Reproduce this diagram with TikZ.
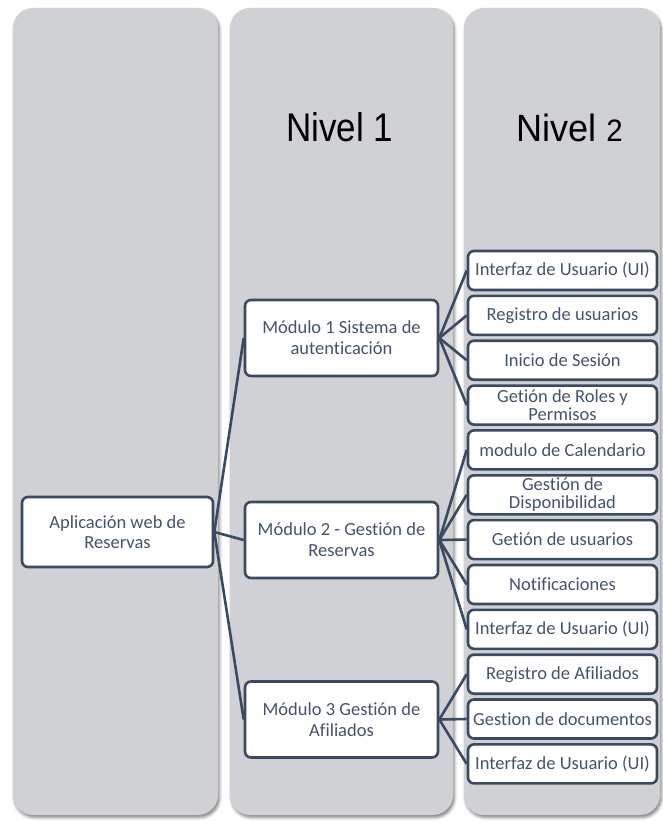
\documentclass[tikz,border=0pt]{standalone}
\usepackage{fontspec}
\setmainfont{Carlito}[Ligatures=NoCommon]
\newfontfamily\headfont{Liberation Sans}
\usetikzlibrary{shadows.blur}
\definecolor{lanefill}{RGB}{208,209,213}
\definecolor{ink}{RGB}{68,84,106}
\definecolor{edgecol}{RGB}{58,74,96}
\begin{document}
\begin{tikzpicture}[x=1pt,y=-1pt,
  lane/.style={fill=lanefill, rounded corners=20pt,
    blur shadow={shadow xshift=1.5pt, shadow yshift=-2.5pt,
      shadow blur radius=3pt, shadow opacity=50}},
  box/.style={draw=edgecol, line width=2.6pt, fill=white, rounded corners=6pt,
    text=ink, align=center, inner sep=0pt},
  rootbox/.style={box, minimum width=191pt, minimum height=70pt,
    font=\fontsize{18.5}{20}\selectfont},
  modbox/.style={box, minimum width=193pt, minimum height=76pt,
    font=\fontsize{18.5}{21}\selectfont},
  leaf/.style={box, minimum width=189pt, minimum height=39pt,
    font=\fontsize{18.5}{18}\selectfont},
  link/.style={draw=edgecol, line width=2.6pt},
  title/.style={anchor=base, inner sep=0pt, text=black}
]
\useasboundingbox (0,0) rectangle (663,821);

% background lanes
\path[lane] (13,8) rectangle (218,815);
\path[lane] (230,8) rectangle (453,815);
\path[lane] (464,8) rectangle (660,815);

% lane titles
\node[title] (t1) at (339.5,142) {\scalebox{0.875}[1]{\headfont\fontsize{40}{40}\selectfont Nivel 1}};
\node[title] (t2) at (569.5,142) {\scalebox{0.95}[1]{\headfont\fontsize{38}{38}\selectfont Nivel {\fontsize{31}{31}\selectfont 2}}};

% root and modules
\node[rootbox] (root) at (117.5,532) {Aplicación web de\\Reservas};
\node[modbox] (m1) at (341.5,338) {Módulo 1 Sistema de\\autenticación};
\node[modbox] (m2) at (341.5,540) {Módulo 2 - Gestión de\\Reservas};
\node[modbox] (m3) at (341.5,719.5) {Módulo 3 Gestión de\\Afiliados};

% second-level items
\node[leaf] (a1) at (562.5,270.5) {Interfaz de Usuario (UI)};
\node[leaf] (a2) at (562.5,315.4) {Registro de usuarios};
\node[leaf] (a3) at (562.5,360.2) {Inicio de Sesión};
\node[leaf] (a4) at (562.5,405.1) {Getión de Roles y\\Permisos};
\node[leaf] (b1) at (562.5,449.9) {modulo de Calendario};
\node[leaf] (b2) at (562.5,494.8) {Gestión de\\Disponibilidad};
\node[leaf] (b3) at (562.5,539.6) {Getión de usuarios};
\node[leaf] (b4) at (562.5,584.5) {Notificaciones};
\node[leaf] (b5) at (562.5,629.3) {Interfaz de Usuario (UI)};
\node[leaf] (c1) at (562.5,674.2) {Registro de Afiliados};
\node[leaf] (c2) at (562.5,719.0) {Gestion de documentos};
\node[leaf] (c3) at (562.5,763.9) {Interfaz de Usuario (UI)};

% connectors from each parent to its children
\foreach \m in {m1,m2,m3} \draw[link] (root.east) -- (\m.west);
\foreach \l in {a1,a2,a3,a4} \draw[link] (m1.east) -- (\l.west);
\foreach \l in {b1,b2,b3,b4,b5} \draw[link] (m2.east) -- (\l.west);
\foreach \l in {c1,c2,c3} \draw[link] (m3.east) -- (\l.west);
\end{tikzpicture}
\end{document}
